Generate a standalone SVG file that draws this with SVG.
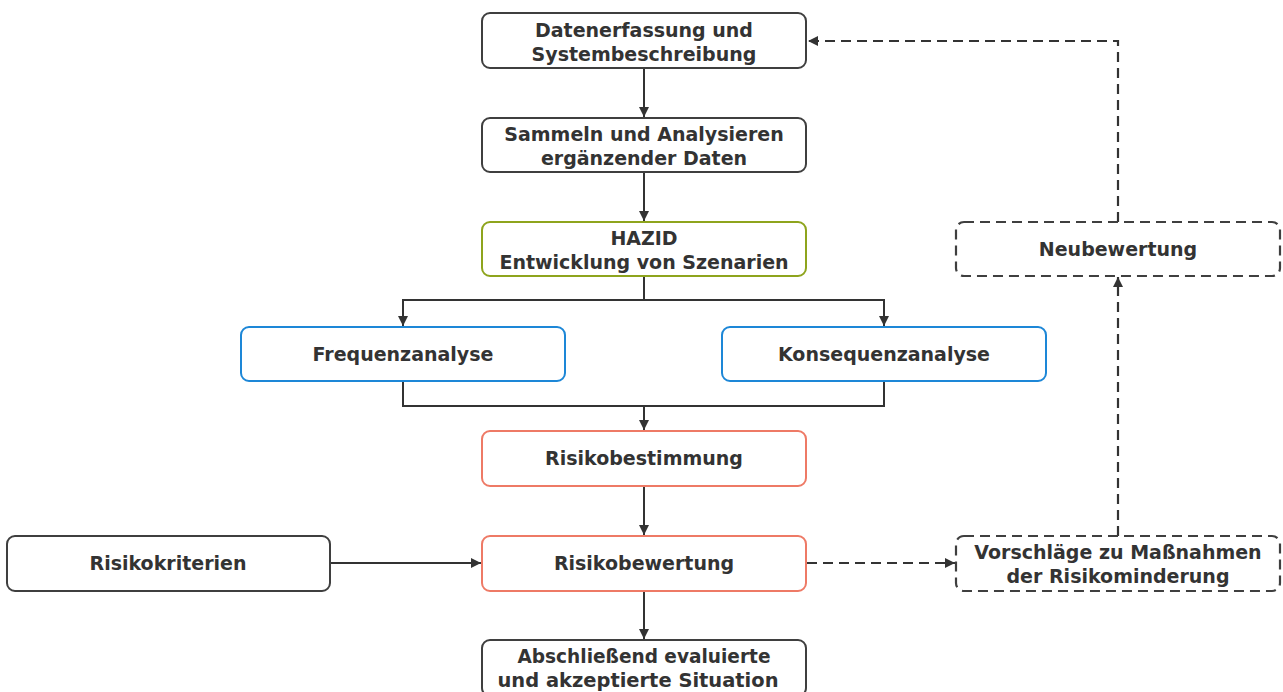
<svg xmlns="http://www.w3.org/2000/svg" width="1283" height="692" viewBox="0 0 1283 692">
<defs>
<style>
.box{fill:#fff;stroke:#3f3f3f;stroke-width:2}
.green{stroke:#8ea41d}
.blue{stroke:#1d87d7}
.red{stroke:#ee7a66}
.dash{stroke-dasharray:10 6;stroke-width:2.2}
text{font-family:"DejaVu Sans",Verdana,sans-serif;font-weight:bold;font-size:19px;fill:#333;text-anchor:middle}
.con{fill:none;stroke:#333;stroke-width:2}
.dcon{fill:none;stroke:#333;stroke-width:2.2;stroke-dasharray:10 6}
</style>
<marker id="ah" viewBox="0 0 10 10" refX="10" refY="5" markerWidth="10" markerHeight="10" markerUnits="userSpaceOnUse" orient="auto">
<path d="M0,0 L10,5 L0,10 Z" fill="#333"/>
</marker>
</defs>
<g id="connectors">
<path class="con" d="M644,68 V117" marker-end="url(#ah)"/>
<path class="con" d="M644,172 V221" marker-end="url(#ah)"/>
<path class="con" d="M644,276 V300"/>
<path class="con" d="M403,300 H884"/>
<path class="con" d="M403,299 V326" marker-end="url(#ah)"/>
<path class="con" d="M884,299 V326" marker-end="url(#ah)"/>
<path class="con" d="M403,381 V406 H884 V381"/>
<path class="con" d="M644,406 V430" marker-end="url(#ah)"/>
<path class="con" d="M644,486 V535" marker-end="url(#ah)"/>
<path class="con" d="M330,563 H481" marker-end="url(#ah)"/>
<path class="con" d="M644,591 V639" marker-end="url(#ah)"/>
<path class="dcon" d="M807,563 H955" marker-end="url(#ah)"/>
<path class="dcon" d="M1118,536 V277" marker-end="url(#ah)"/>
<path class="dcon" d="M1118,222 V41 H808" marker-end="url(#ah)"/>
</g>
<g id="n1"><rect class="box" x="482" y="13" width="324" height="55" rx="8"/><text x="644" y="36.5">Datenerfassung und</text><text x="644" y="60.5">Systembeschreibung</text></g>
<g id="n2"><rect class="box" x="482" y="118" width="324" height="54" rx="8"/><text x="644" y="141">Sammeln und Analysieren</text><text x="644" y="165">ergänzender Daten</text></g>
<g id="n3"><rect class="box green" x="482" y="222" width="324" height="54" rx="8"/><text x="644" y="245">HAZID</text><text x="644" y="269">Entwicklung von Szenarien</text></g>
<g id="n4"><rect class="box blue" x="241" y="327" width="324" height="54" rx="8"/><text x="403" y="361">Frequenzanalyse</text></g>
<g id="n5"><rect class="box blue" x="722" y="327" width="324" height="54" rx="8"/><text x="884" y="361">Konsequenzanalyse</text></g>
<g id="n6"><rect class="box red" x="482" y="431" width="324" height="55" rx="8"/><text x="644" y="465">Risikobestimmung</text></g>
<g id="n7"><rect class="box red" x="482" y="536" width="324" height="55" rx="8"/><text x="644" y="570">Risikobewertung</text></g>
<g id="n8"><rect class="box" x="7" y="536" width="323" height="55" rx="8"/><text x="168" y="570">Risikokriterien</text></g>
<g id="n9"><rect class="box" x="482" y="640" width="324" height="56" rx="8"/><text x="644" y="663" textLength="253" lengthAdjust="spacingAndGlyphs">Abschließend evaluierte</text><text x="638" y="687" textLength="281" lengthAdjust="spacingAndGlyphs">und akzeptierte Situation</text></g>
<g id="n10"><rect class="box dash" x="956" y="222" width="324" height="54" rx="8"/><text x="1118" y="256">Neubewertung</text></g>
<g id="n11"><rect class="box dash" x="956" y="536" width="324" height="55" rx="8"/><text x="1118" y="559">Vorschläge zu Maßnahmen</text><text x="1118" y="583">der Risikominderung</text></g>
</svg>
